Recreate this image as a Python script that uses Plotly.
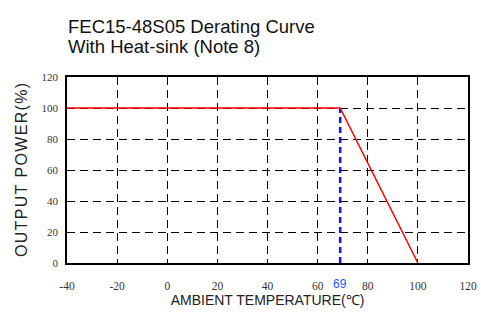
import plotly.graph_objects as go

temps = [-40, 69, 100]
power = [100, 100, 0]
knee_x = [69, 69]
knee_y = [0, 100]
x_ticks = [-40, -20, 0, 20, 40, 60, 80, 100, 120]
y_ticks = [0, 20, 40, 60, 80, 100, 120]

fig = go.Figure()
fig.add_trace(go.Scatter(x=knee_x, y=knee_y, mode="lines",
                         line=dict(color="#1010ff", width=2.5, dash="6px,4px"),
                         showlegend=False, hoverinfo="skip"))
fig.add_trace(go.Scatter(x=temps, y=power, mode="lines",
                         line=dict(color="#ff0000", width=1.5),
                         showlegend=False, hoverinfo="skip"))

serif = "Liberation Serif, Times New Roman, serif"
sans = "Liberation Sans, Arial, sans-serif"
ytitle = "\u200a".join("OUTPUT POWER(%)")
fig.update_layout(
    width=481, height=325,
    margin=dict(l=67, r=13, t=77, b=62),
    paper_bgcolor="white", plot_bgcolor="white",
    xaxis=dict(range=[-40, 120], tickvals=x_ticks, ticktext=[str(v) for v in x_ticks],
               showgrid=True, gridcolor="black", gridwidth=1, griddash="8px,5px",
               showline=True, linecolor="black", linewidth=1.5, mirror=True,
               zeroline=False, ticks="", ticklen=0, automargin=False,
               ticklabelstandoff=11, ticklabeloverflow="allow",
               tickfont=dict(family=serif, size=11.5, color="#333"),
               title=dict(text="AMBIENT TEMPERATURE(℃)",
                          font=dict(family="Liberation Sans Narrow, Arial Narrow, Liberation Sans, sans-serif",
                                    size=14, color="#222"), standoff=1)),
    yaxis=dict(range=[0, 120], tickvals=y_ticks,
               showgrid=True, gridcolor="black", gridwidth=1, griddash="8px,5px",
               showline=True, linecolor="black", linewidth=1.5, mirror=True,
               zeroline=False, ticks="", ticklen=0, automargin=False,
               ticklabelstandoff=5, ticklabeloverflow="allow",
               tickfont=dict(family=serif, size=11, color="#333"),
               title=dict(text=ytitle, font=dict(family=sans, size=16, color="#222"),
                          standoff=10)),
    annotations=[
        dict(text="FEC15-48S05 Derating Curve",
             xref="paper", yref="paper", x=0.0, y=1.0, yshift=63, xshift=-1,
             xanchor="left", yanchor="top", align="left", showarrow=False,
             font=dict(family=sans, size=18.5, color="#111")),
        dict(text="With Heat-sink (Note 8)",
             xref="paper", yref="paper", x=0.0, y=1.0, yshift=43, xshift=-1,
             xanchor="left", yanchor="top", align="left", showarrow=False,
             font=dict(family=sans, size=18.5, color="#111")),
        dict(text="69", xref="x", yref="paper", x=69, y=0, yshift=-30,
             xanchor="center", yanchor="bottom", showarrow=False,
             font=dict(family=sans, size=12, color="#1a5cff")),
    ],
)
fig.write_html("out.html", config={"displayModeBar": False},
               post_script="document.body.style.margin='0';")
